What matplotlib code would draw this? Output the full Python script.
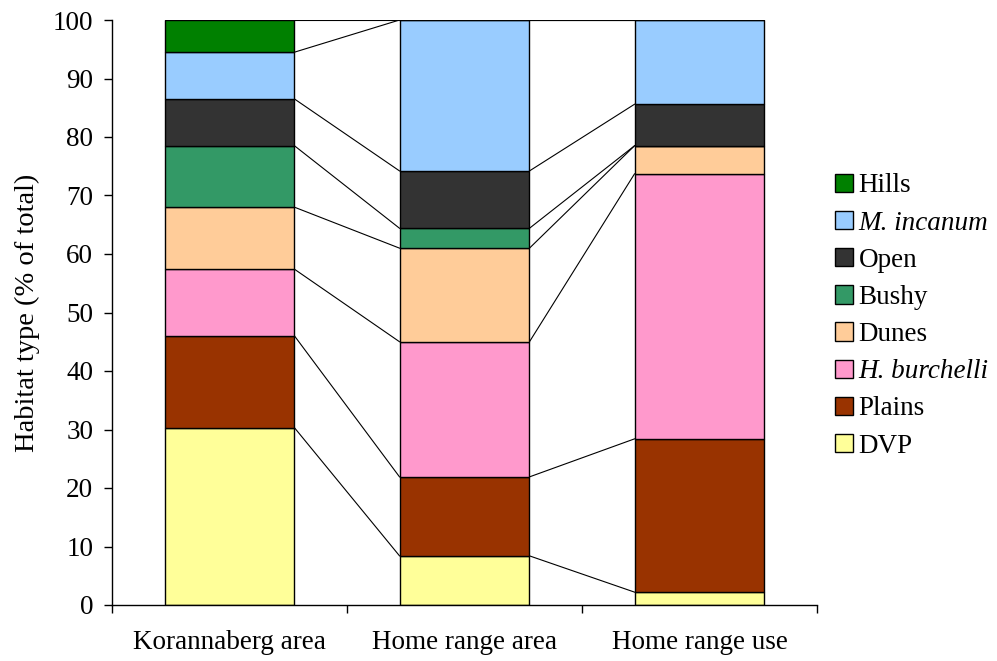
import matplotlib
matplotlib.use("Agg")
import matplotlib.pyplot as plt
import numpy as np

plt.rcParams['font.family'] = ['Liberation Serif', 'DejaVu Serif']

categories = ["Korannaberg area", "Home range area", "Home range use"]
habitats = ["DVP", "Plains", "H. burchelli", "Dunes", "Bushy", "Open", "M. incanum", "Hills"]
colors = ["#FFFF99", "#993300", "#FF99CC", "#FFCC99", "#339966", "#333333", "#99CCFF", "#008000"]
italic = {"H. burchelli", "M. incanum"}

dvp = [30.3, 8.4, 2.2]
plains = [15.7, 13.5, 26.2]
h_burchelli = [11.4, 23.1, 45.3]
dunes = [10.6, 16.0, 4.8]
bushy = [10.5, 3.4, 0.0]
open_ = [8.0, 9.8, 7.1]
m_incanum = [8.0, 25.8, 14.4]
hills = [5.5, 0.0, 0.0]

series = [dvp, plains, h_burchelli, dunes, bushy, open_, m_incanum, hills]

fig = plt.figure(figsize=(9.97, 6.61), dpi=100)
ax = fig.add_axes([112/997, 1-605/661, (817-112)/997, (605-20)/661])

x = np.arange(len(categories))
w = 0.553
bottom = np.zeros(len(categories))
handles = []
tops = []
for name, vals, c in zip(habitats, series, colors):
    vals = np.array(vals)
    b = ax.bar(x, vals, w, bottom=bottom, color=c, edgecolor='black', linewidth=1.0, label=name, zorder=2)
    handles.append(b)
    bottom = bottom + vals
    tops.append(bottom.copy())

# series lines connecting cumulative tops
for t in tops:
    for i in range(len(categories) - 1):
        ax.plot([x[i] + w/2, x[i+1] - w/2], [t[i], t[i+1]], color='black', linewidth=0.8, zorder=1)

ax.set_xlim(-0.5, 2.5)
ax.set_ylim(0, 100)
ax.set_yticks(np.arange(0, 101, 10))
ax.set_xticks(x)
ax.set_xticklabels(categories, fontsize=19.5)
ax.tick_params(axis='x', length=0, pad=18)
ax.set_xticks([-0.5, 0.5, 1.5, 2.5], minor=True)
ax.tick_params(axis='x', which='minor', length=5.5, direction='out', width=1)
ax.tick_params(axis='y', labelsize=19.5, length=6, direction='out', width=1, pad=7.5)
for s in ['top', 'right']:
    ax.spines[s].set_visible(False)
ax.spines['left'].set_linewidth(1)
ax.spines['bottom'].set_linewidth(1)
ax.set_ylabel("Habitat type (% of total)", fontsize=20.5, labelpad=9)

leg = fig.legend(handles[::-1], habitats[::-1], loc='center left',
                 bbox_to_anchor=(835/997, 1-316/661), bbox_transform=fig.transFigure,
                 frameon=False, fontsize=19.5, handlelength=0.67, handleheight=0.67,
                 handletextpad=0.2, labelspacing=0.45, borderpad=0, borderaxespad=0)
for txt in leg.get_texts():
    if txt.get_text() in italic:
        txt.set_fontstyle('italic')

fig.savefig("out.png", dpi=100)
